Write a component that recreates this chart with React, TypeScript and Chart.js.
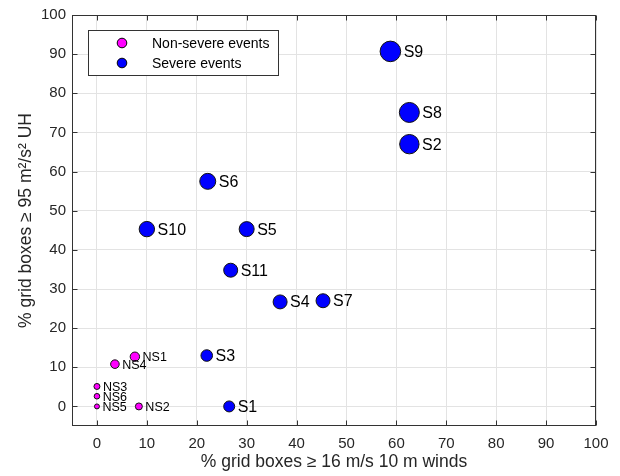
import React, { useEffect, useRef } from "react";
import { Chart, registerables } from "chart.js";

Chart.register(...registerables);

const FONT = "'Liberation Sans', Arial, Helvetica, sans-serif";

// Severe events
const severeLabels = ["S1", "S2", "S3", "S4", "S5", "S6", "S7", "S8", "S9", "S10", "S11"];
const severeX = [26.5, 62.6, 22.0, 36.7, 30.0, 22.2, 45.3, 62.6, 58.8, 10.0, 26.8];
const severeY = [0, 67.0, 13.0, 26.7, 45.3, 57.5, 27.0, 75.1, 90.7, 45.3, 34.8];
const severeSize = [5.5, 9.7, 5.8, 7, 7.5, 8, 7, 10, 10.3, 7.7, 7];

// Non-severe events
const nonSevereLabels = ["NS1", "NS2", "NS3", "NS4", "NS5", "NS6"];
const nonSevereX = [7.6, 8.4, 0, 3.6, 0, 0];
const nonSevereY = [12.7, 0, 5.1, 10.8, 0, 2.6];
const nonSevereSize = [4.7, 3.5, 3, 4.3, 2.5, 2.8];

const xTicks = [0, 10, 20, 30, 40, 50, 60, 70, 80, 90, 100];
const yTicks = [0, 10, 20, 30, 40, 50, 60, 70, 80, 90, 100];
const xMin = -5;
const xMax = 100;
const yMin = -5;
const yMax = 100;

const xTitle = "% grid boxes \u2265 16 m/s 10 m winds";
const yTitle = "% grid boxes \u2265 95 m\u00B2/s\u00B2 UH";

const AXIS_COLOR = "#333333";

const boxPlugin = {
  id: "boxTicks",
  beforeDatasetsDraw(chart: any) {
    const { ctx, chartArea } = chart;
    const xs = chart.scales.x;
    const ys = chart.scales.y;
    const L = Math.round(chartArea.left) + 0.5;
    const R = Math.round(chartArea.right) - 0.5;
    const T = Math.round(chartArea.top) + 0.5;
    const B = Math.round(chartArea.bottom) - 0.5;
    ctx.save();
    ctx.strokeStyle = AXIS_COLOR;
    ctx.lineWidth = 1;
    ctx.strokeRect(L, T, R - L, B - T);
    const tl = 5;
    ctx.beginPath();
    xTicks.forEach((v) => {
      const px = Math.round(xs.getPixelForValue(v)) + 0.5;
      ctx.moveTo(px, B);
      ctx.lineTo(px, B - tl);
      ctx.moveTo(px, T);
      ctx.lineTo(px, T + tl);
    });
    yTicks.forEach((v) => {
      const py = Math.round(ys.getPixelForValue(v)) + 0.5;
      ctx.moveTo(L, py);
      ctx.lineTo(L + tl, py);
      ctx.moveTo(R, py);
      ctx.lineTo(R - tl, py);
    });
    ctx.stroke();
    ctx.restore();
  },
};

const labelPlugin = {
  id: "pointLabels",
  afterDatasetsDraw(chart: any) {
    const { ctx } = chart;
    ctx.save();
    ctx.fillStyle = "#000000";
    ctx.textBaseline = "middle";
    ctx.textAlign = "left";
    chart.data.datasets.forEach((ds: any, di: number) => {
      const meta = chart.getDatasetMeta(di);
      const labels: string[] = ds.pointLabels;
      const sizes: number[] = ds.pointRadius;
      ctx.font = `${ds.labelFontSize}px ${FONT}`;
      meta.data.forEach((el: any, i: number) => {
        ctx.fillText(labels[i], el.x + sizes[i] + ds.labelGap, el.y + 1);
      });
    });
    ctx.restore();
  },
};

const legendPlugin = {
  id: "boxLegend",
  afterDraw(chart: any) {
    const { ctx } = chart;
    const x0 = 88.5;
    const y0 = 30.5;
    const w = 190;
    const h = 45;
    ctx.save();
    ctx.fillStyle = "#ffffff";
    ctx.fillRect(x0, y0, w, h);
    ctx.strokeStyle = AXIS_COLOR;
    ctx.lineWidth = 1;
    ctx.strokeRect(x0, y0, w, h);
    const items = [chart.data.datasets[1], chart.data.datasets[0]];
    items.forEach((ds: any, i: number) => {
      const cy = 43 + i * 20;
      ctx.beginPath();
      ctx.arc(122, cy, 4.8, 0, Math.PI * 2);
      ctx.fillStyle = ds.backgroundColor;
      ctx.fill();
      ctx.strokeStyle = "#000000";
      ctx.lineWidth = 1;
      ctx.stroke();
      ctx.fillStyle = "#000000";
      ctx.font = `14px ${FONT}`;
      ctx.textBaseline = "middle";
      ctx.textAlign = "left";
      ctx.fillText(ds.label, 152, cy + 1);
    });
    ctx.restore();
  },
};

export default function App() {
  const ref = useRef<HTMLCanvasElement | null>(null);

  useEffect(() => {
    if (!ref.current) return;
    const chart = new Chart(ref.current, {
      type: "scatter",
      data: {
        datasets: [
          {
            label: "Severe events",
            data: severeX.map((x, i) => ({ x, y: severeY[i] })),
            backgroundColor: "#0000ff",
            borderColor: "#111111",
            borderWidth: 1,
            pointRadius: severeSize,
            pointHoverRadius: severeSize,
            pointLabels: severeLabels,
            labelFontSize: 16,
            labelGap: 3,
          } as any,
          {
            label: "Non-severe events",
            data: nonSevereX.map((x, i) => ({ x, y: nonSevereY[i] })),
            backgroundColor: "#ff00ff",
            borderColor: "#111111",
            borderWidth: 1,
            pointRadius: nonSevereSize,
            pointHoverRadius: nonSevereSize,
            pointLabels: nonSevereLabels,
            labelFontSize: 12.5,
            labelGap: 3,
          } as any,
        ],
      },
      options: {
        animation: false,
        responsive: false,
        events: [],
        layout: { padding: { left: 0, right: 24, top: 14, bottom: 0 } },
        plugins: {
          legend: { display: false },
          tooltip: { enabled: false },
        },
        scales: {
          x: {
            type: "linear",
            min: xMin,
            max: xMax,
            afterBuildTicks: (s: any) => {
              s.ticks = xTicks.map((v) => ({ value: v }));
            },
            afterFit: (s: any) => {
              s.height = 50;
            },
            grid: { color: "#e3e3e3", drawTicks: false, lineWidth: 1 },
            border: { display: false },
            ticks: {
              padding: 9,
              color: "#262626",
              font: { family: FONT, size: 15 },
              maxRotation: 0,
            },
            title: {
              display: true,
              text: xTitle,
              color: "#262626",
              font: { family: FONT, size: 17.5 },
              padding: { top: 0, bottom: 3 },
            },
          },
          y: {
            type: "linear",
            min: yMin,
            max: yMax,
            afterBuildTicks: (s: any) => {
              s.ticks = yTicks.map((v) => ({ value: v }));
            },
            afterFit: (s: any) => {
              s.width = 72;
            },
            grid: { color: "#e3e3e3", drawTicks: false, lineWidth: 1 },
            border: { display: false },
            ticks: {
              padding: 6,
              color: "#262626",
              font: { family: FONT, size: 15 },
            },
            title: {
              display: true,
              text: yTitle,
              color: "#262626",
              font: { family: FONT, size: 17.5 },
              padding: { top: 16, bottom: 0 },
            },
          },
        },
      } as any,
      plugins: [boxPlugin, labelPlugin, legendPlugin],
    });
    return () => chart.destroy();
  }, []);

  return (
    <div style={{ position: "absolute", left: 0, top: 0, width: 620, height: 476, background: "#ffffff" }}>
      <canvas ref={ref} width={620} height={476} style={{ display: "block" }} />
    </div>
  );
}
